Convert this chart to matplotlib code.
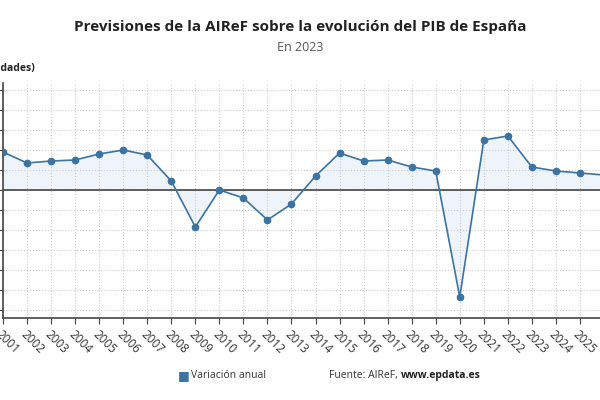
import matplotlib.pyplot as plt
import numpy as np

plt.rcParams["font.family"] = ["Open Sans", "DejaVu Sans"]

years = list(range(2001, 2027))
pib = [3.8, 2.7, 2.9, 3.0, 3.6, 4.0, 3.5, 0.9, -3.7, 0.0, -0.8, -3.0, -1.4,
       1.4, 3.7, 2.9, 3.0, 2.3, 1.9, -10.7, 5.0, 5.4, 2.3, 1.9, 1.7, 1.5]
tick_years = list(range(2001, 2026))

COLOR = "#3b73a3"

fig = plt.figure(figsize=(6, 4), dpi=100)
ax = fig.add_axes([0.005, 0.205, 1.0017, 0.5875])

x = np.array(years)
y = np.array(pib)
ax.fill_between(x, y, 0, color="#dfeaf5", alpha=0.5, lw=0)
ax.plot(x, y, color=COLOR, lw=1.2, marker="o", ms=4.5, zorder=3)
ax.axhline(0, color="#444444", lw=1.2, zorder=2)

ax.set_xlim(2001, 2026)
ax.set_ylim(-12.8, 10.7)
ax.set_yticks(range(-12, 11, 2))
ax.set_yticklabels([])
ax.set_xticks(tick_years)
ax.set_xticklabels([str(t) for t in tick_years], rotation=-45, ha="left",
                   rotation_mode="anchor", fontsize=8.5, color="#333333")
ax.tick_params(axis="y", length=3, color="#444444")
ax.tick_params(axis="x", length=4, color="#444444")
ax.grid(True, color="#cccccc", ls=":", lw=0.8)
for s in ["top", "right"]:
    ax.spines[s].set_visible(False)
for s in ["left", "bottom"]:
    ax.spines[s].set_color("#444444")
    ax.spines[s].set_linewidth(1.2)

fig.text(0.5, 0.932, "Previsiones de la AIReF sobre la evolución del PIB de España",
         ha="center", va="center", fontsize=11, fontweight="bold", color="#222222")
fig.text(0.5, 0.882, "En 2023", ha="center", va="center", fontsize=9, color="#555555")
fig.text(0.058, 0.828, "(% unidades)", ha="right", va="center", fontsize=7.5,
         fontweight="bold", color="#222222")

fig.text(0.297, 0.062, "■", ha="left", va="center", fontsize=9, color=COLOR)
fig.text(0.318, 0.062, "Variación anual", ha="left", va="center", fontsize=7.5, color="#333333")
fig.text(0.548, 0.062, "Fuente: AIReF,", ha="left", va="center", fontsize=7.5, color="#333333")
fig.text(0.668, 0.062, "www.epdata.es", ha="left", va="center", fontsize=7.5,
         fontweight="bold", color="#222222")

fig.savefig("out.png", dpi=100)
